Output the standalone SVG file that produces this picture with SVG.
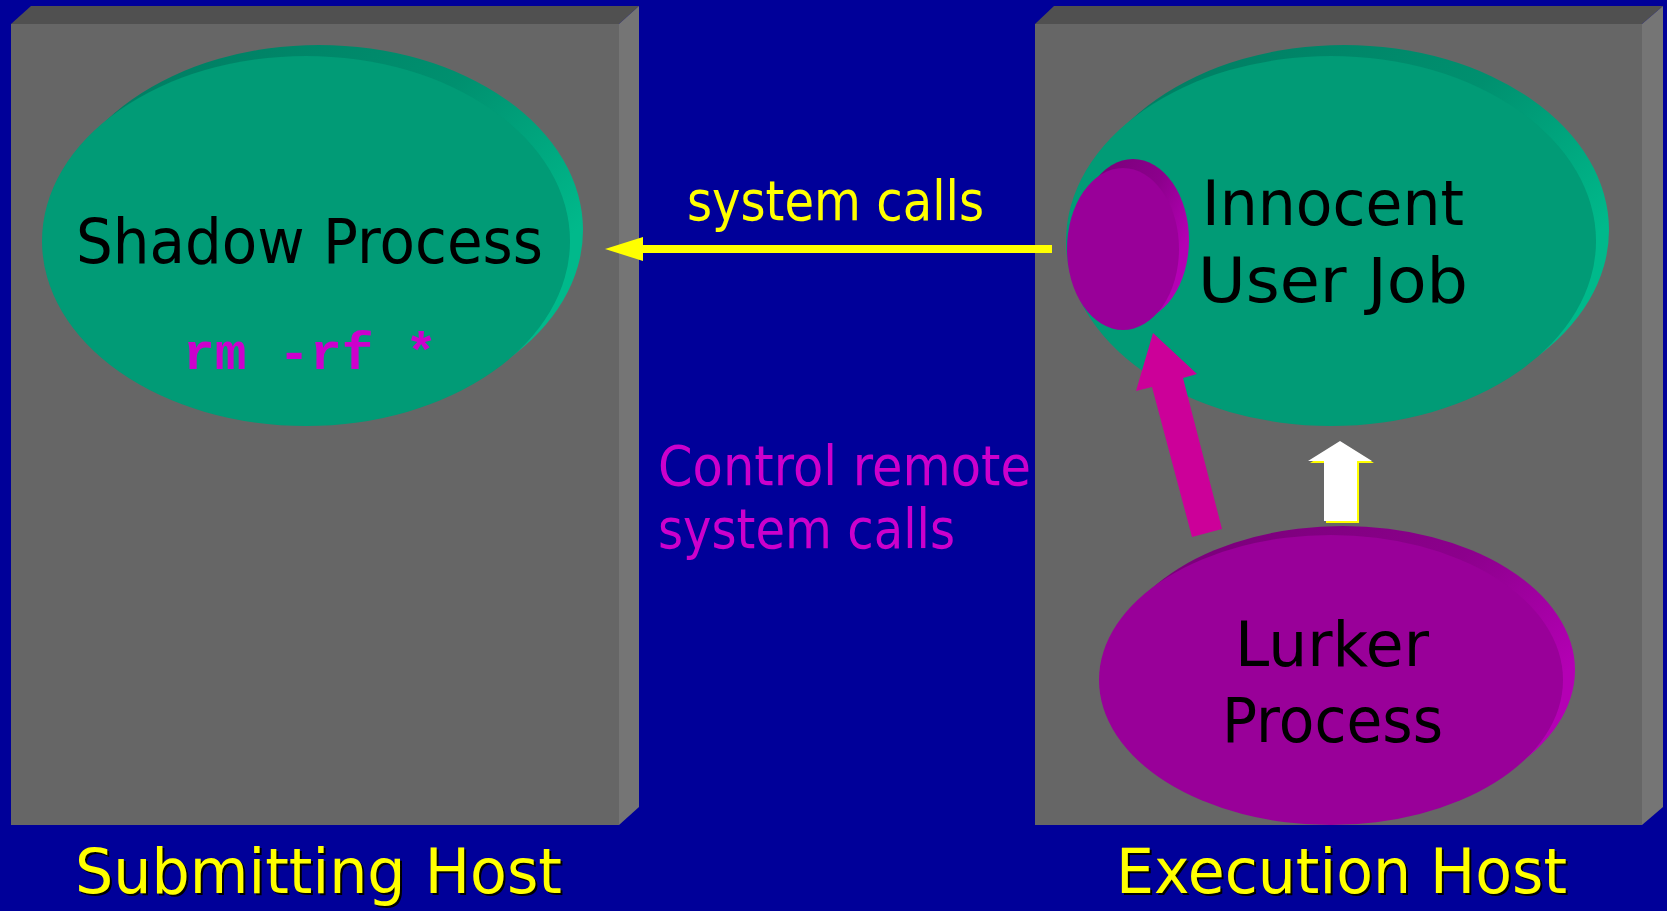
<svg xmlns="http://www.w3.org/2000/svg" width="1667" height="911" viewBox="0 0 1667 911">
  <defs>
    <linearGradient id="rimGreen" x1="0.2" y1="0" x2="0.95" y2="0.55">
      <stop offset="0" stop-color="#007e63"/>
      <stop offset="0.55" stop-color="#00906f"/>
      <stop offset="1" stop-color="#00b98b"/>
    </linearGradient>
    <linearGradient id="rimPurple" x1="0.2" y1="0" x2="0.95" y2="0.55">
      <stop offset="0" stop-color="#7a007a"/>
      <stop offset="0.55" stop-color="#8c008c"/>
      <stop offset="1" stop-color="#b400b4"/>
    </linearGradient>
    <style>
      .front { fill: #666666; }
      .top { fill: #505050; }
      .side { fill: #757575; }
      .disc-g { fill: #019b76; }
      .disc-p { fill: #990099; }
      .comic { font-family: "DejaVu Sans", "Liberation Sans", sans-serif; }
      .black { fill: #000000; font-size: 62px; }
      .yellow { fill: #ffff00; font-size: 55px; }
      .magenta { fill: #cc00cc; font-size: 55px; }
      .host { fill: #ffff00; font-size: 62px; }
      .hostShadow { fill: #000000; font-size: 62px; }
      .code { font-family: "Liberation Mono", "DejaVu Sans Mono", monospace; font-weight: bold; font-size: 52px; fill: #cc00cc; }
    </style>
  </defs>

  <!-- background -->
  <rect x="0" y="0" width="1667" height="911" fill="#000099"/>

  <!-- left host block -->
  <g id="submitting-host">
    <polygon class="top" points="11,24 31,6 639,6 619,24"/>
    <polygon class="side" points="619,24 639,6 639,807 619,825"/>
    <rect class="front" x="11" y="24" width="608" height="801"/>
  </g>

  <!-- right host block -->
  <g id="execution-host">
    <polygon class="top" points="1035,24 1054,6 1663,6 1642,24"/>
    <polygon class="side" points="1642,24 1663,6 1663,807 1642,825"/>
    <rect class="front" x="1035" y="24" width="607" height="801"/>
  </g>

  <!-- shadow process disc -->
  <g id="shadow-process">
    <ellipse cx="319" cy="230" rx="264" ry="185" fill="url(#rimGreen)"/>
    <ellipse class="disc-g" cx="306" cy="241" rx="264" ry="185"/>
    <text class="comic black" x="76" y="263" textLength="467" lengthAdjust="spacingAndGlyphs">Shadow Process</text>
    <text class="code" x="183" y="369" textLength="254" lengthAdjust="spacingAndGlyphs">rm -rf *</text>
  </g>

  <!-- innocent user job disc -->
  <g id="innocent-user-job">
    <ellipse cx="1344" cy="230" rx="265" ry="185" fill="url(#rimGreen)"/>
    <ellipse class="disc-g" cx="1331" cy="241" rx="265" ry="185"/>
    <text class="comic black" x="1202" y="225" textLength="262" lengthAdjust="spacingAndGlyphs">Innocent</text>
    <text class="comic black" x="1198" y="302" textLength="270" lengthAdjust="spacingAndGlyphs">User Job</text>
  </g>

  <!-- hijacked part of the job -->
  <g id="injected-stub">
    <ellipse cx="1133" cy="240" rx="56" ry="81" fill="url(#rimPurple)"/>
    <ellipse class="disc-p" cx="1123" cy="249" rx="56" ry="81"/>
  </g>

  <!-- lurker process disc -->
  <g id="lurker-process">
    <ellipse cx="1343" cy="670" rx="232" ry="144" fill="url(#rimPurple)"/>
    <ellipse class="disc-p" cx="1331" cy="680" rx="232" ry="145"/>
    <text class="comic black" x="1235" y="666" textLength="194" lengthAdjust="spacingAndGlyphs">Lurker</text>
    <text class="comic black" x="1222" y="742" textLength="221" lengthAdjust="spacingAndGlyphs">Process</text>
  </g>

  <!-- connectors -->
  <g id="connectors">
    <!-- system calls forwarded to the shadow -->
    <rect x="643" y="245" width="409" height="8" fill="#ffff00"/>
    <polygon points="605,249 643,237 643,261" fill="#ffff00"/>
    <!-- lurker takes control of the job -->
    <polygon points="1153,333 1197,374 1183,378 1222,529 1192,537 1152,387 1136,391" fill="#cc0099"/>
    <!-- lurker to job -->
    <polygon points="1340,441 1372,461 1357,461 1357,521 1324,521 1324,461 1308,461" fill="#ffff00" transform="translate(2,2)"/>
    <polygon points="1340,441 1372,461 1357,461 1357,521 1324,521 1324,461 1308,461" fill="#ffffff"/>
  </g>

  <!-- connector labels -->
  <g id="labels">
    <text class="comic yellow" x="687" y="220" textLength="297" lengthAdjust="spacingAndGlyphs">system calls</text>
    <text class="comic magenta" x="658" y="485" textLength="373" lengthAdjust="spacingAndGlyphs">Control remote</text>
    <text class="comic magenta" x="658" y="548" textLength="297" lengthAdjust="spacingAndGlyphs">system calls</text>
  </g>

  <!-- host captions -->
  <g id="captions">
    <text class="comic hostShadow" x="77" y="895" textLength="487" lengthAdjust="spacingAndGlyphs">Submitting Host</text>
    <text class="comic host" x="75" y="893" textLength="487" lengthAdjust="spacingAndGlyphs">Submitting Host</text>
    <text class="comic hostShadow" x="1118" y="895" textLength="451" lengthAdjust="spacingAndGlyphs">Execution Host</text>
    <text class="comic host" x="1116" y="893" textLength="451" lengthAdjust="spacingAndGlyphs">Execution Host</text>
  </g>
</svg>
